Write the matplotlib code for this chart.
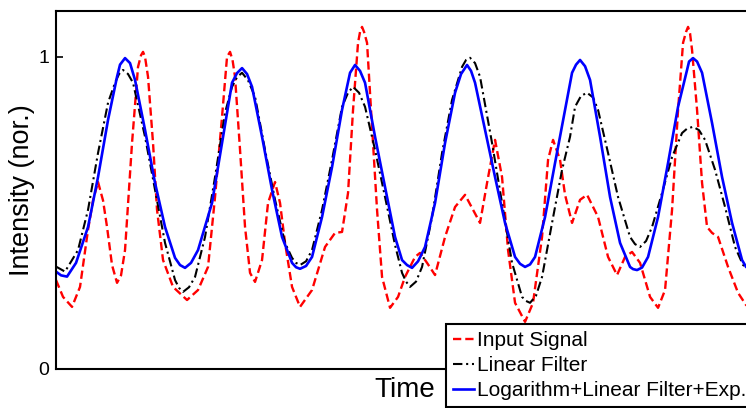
import numpy as np
import matplotlib
matplotlib.use("Agg")
from matplotlib import pyplot as plt

plt.rcParams['font.family'] = ['Liberation Sans', 'DejaVu Sans']

# time in arbitrary sample units, intensity normalised
t_input = [0, 7, 16, 24, 32, 37, 42, 47, 51, 56, 61, 65, 69, 76, 82, 85, 87, 89, 92, 97,
           101, 107, 117, 131, 142, 152, 159, 166, 171, 174, 176.5, 179, 184, 189, 194, 199,
           206, 212, 219, 224, 229, 236, 244, 256, 269, 279, 286, 292, 297, 302, 304, 306,
           308, 311, 316, 321, 326, 334, 342, 349, 359, 364, 371, 379, 389, 399, 409, 417,
           424, 431, 439, 446, 452, 459, 469, 477, 486, 492, 497, 504, 509, 516, 524, 531,
           542, 552, 561, 569, 576, 584, 594, 602, 609, 616, 622, 627, 630, 632, 634, 636,
           641, 646, 651, 656, 662, 672, 682, 690, 698]
i_input = [0.285, 0.231, 0.199, 0.263, 0.446, 0.540, 0.599, 0.540, 0.455, 0.333, 0.276,
           0.300, 0.381, 0.724, 0.968, 1.005, 1.016, 1.000, 0.936, 0.724, 0.510, 0.349,
           0.263, 0.221, 0.253, 0.327, 0.551, 0.808, 1.000, 1.016, 0.990, 0.936, 0.702,
           0.455, 0.308, 0.279, 0.349, 0.532, 0.599, 0.532, 0.404, 0.263, 0.199, 0.253,
           0.391, 0.436, 0.439, 0.564, 0.830, 1.045, 1.080, 1.096, 1.080, 1.045, 0.776,
           0.510, 0.295, 0.196, 0.231, 0.295, 0.359, 0.372, 0.340, 0.301, 0.423, 0.519,
           0.558, 0.510, 0.468, 0.596, 0.734, 0.615, 0.381, 0.212, 0.151, 0.212, 0.423,
           0.670, 0.734, 0.670, 0.558, 0.468, 0.542, 0.558, 0.487, 0.359, 0.301, 0.359,
           0.375, 0.340, 0.231, 0.196, 0.253, 0.510, 0.830, 1.045, 1.080, 1.096, 1.075,
           1.022, 0.830, 0.596, 0.455, 0.436, 0.423, 0.327, 0.244, 0.205, 0.190]

t_linear = [0, 9, 22, 32, 42, 52, 59, 63, 67, 72, 77, 89, 99, 109, 119, 123, 127, 133, 139,
            149, 159, 169, 176, 181, 186, 192, 199, 209, 219, 229, 236, 240, 244, 250, 256,
            266, 276, 286, 292, 297, 303, 309, 319, 329, 339, 346, 350, 354, 360, 366, 376,
            386, 396, 406, 410, 414, 419, 424, 436, 446, 456, 466, 470, 474, 480, 486, 496,
            506, 514, 519, 525, 531, 537, 542, 552, 562, 574, 579, 584, 590, 596, 606, 616,
            626, 631, 637, 643, 649, 659, 669, 679, 687, 698]
i_linear = [0.328, 0.312, 0.381, 0.510, 0.692, 0.853, 0.917, 0.945, 0.958, 0.945, 0.917,
            0.744, 0.574, 0.404, 0.285, 0.260, 0.247, 0.262, 0.295, 0.423, 0.615, 0.821,
            0.904, 0.935, 0.949, 0.925, 0.872, 0.702, 0.542, 0.404, 0.356, 0.340, 0.333,
            0.345, 0.381, 0.510, 0.670, 0.840, 0.885, 0.904, 0.885, 0.840, 0.702, 0.551,
            0.397, 0.308, 0.280, 0.263, 0.280, 0.327, 0.487, 0.692, 0.862, 0.968, 0.990,
            0.997, 0.980, 0.936, 0.724, 0.532, 0.340, 0.231, 0.218, 0.212, 0.235, 0.295,
            0.468, 0.638, 0.744, 0.840, 0.875, 0.885, 0.870, 0.830, 0.692, 0.551, 0.423,
            0.400, 0.391, 0.410, 0.455, 0.564, 0.679, 0.756, 0.770, 0.776, 0.765, 0.734,
            0.638, 0.519, 0.391, 0.333, 0.310]

t_log = [0, 5, 11, 20, 32, 42, 52, 61, 64, 69, 74, 79, 89, 99, 109, 119, 124, 129, 135,
         142, 156, 166, 176, 181, 186, 191, 196, 206, 216, 226, 236, 240, 244, 250, 256,
         266, 276, 286, 294, 299, 304, 309, 319, 329, 339, 346, 351, 356, 362, 369, 379,
         389, 399, 405, 411, 415, 419, 429, 439, 449, 459, 464, 469, 474, 479, 489, 499,
         509, 516, 520, 524, 529, 534, 544, 554, 564, 574, 577, 581, 586, 592, 602, 612,
         622, 631, 633, 637, 641, 646, 656, 666, 676, 686, 690, 698]
i_log = [0.312, 0.300, 0.296, 0.340, 0.455, 0.615, 0.798, 0.936, 0.975, 0.996, 0.980,
         0.926, 0.766, 0.596, 0.455, 0.356, 0.333, 0.324, 0.340, 0.381, 0.532, 0.724,
         0.917, 0.948, 0.964, 0.945, 0.904, 0.744, 0.574, 0.423, 0.340, 0.326, 0.321,
         0.330, 0.359, 0.487, 0.647, 0.830, 0.949, 0.974, 0.955, 0.917, 0.744, 0.583,
         0.423, 0.349, 0.333, 0.324, 0.345, 0.391, 0.532, 0.724, 0.885, 0.945, 0.974,
         0.955, 0.917, 0.766, 0.615, 0.468, 0.359, 0.337, 0.327, 0.335, 0.359, 0.487,
         0.660, 0.830, 0.949, 0.975, 0.990, 0.970, 0.926, 0.744, 0.551, 0.404, 0.327,
         0.320, 0.317, 0.325, 0.359, 0.487, 0.660, 0.840, 0.958, 0.985, 0.996, 0.985,
         0.949, 0.788, 0.615, 0.468, 0.349, 0.327, 0.310]

fig = plt.figure(figsize=(7.46, 4.08), dpi=100)
ax = fig.add_axes([0.0751, 0.0956, 0.9357, 0.8775])

l1, = ax.plot(t_input, i_input, color='#ff0000', lw=1.7, ls=(0, (3.5, 1.7)),
              label='Input Signal')
l2, = ax.plot(t_linear, i_linear, color='black', lw=1.5, ls=(0, (4.5, 1.8, 1, 1.8)),
              label='Linear Filter')
l3, = ax.plot(t_log, i_log, color='#0000ff', lw=1.9, label='Logarithm+Linear Filter+Exp.')

ax.set_xlim(0, 698)
ax.set_ylim(0, 1.147)
ax.set_xticks([])
ax.set_yticks([0, 1])
ax.set_yticklabels(['0', '1'])
ax.tick_params(axis='y', direction='in', length=5, width=1.2, labelsize=14, pad=5)
for s in ax.spines.values():
    s.set_linewidth(1.5)

ax.set_ylabel('Intensity (nor.)', fontsize=19.5, labelpad=2)
ax.set_xlabel('Time', fontsize=20, labelpad=6)

leg = ax.legend(handles=[l1, l2, l3], loc='upper left',
                bbox_to_anchor=(446 / 746, 1 - 324 / 408), bbox_transform=fig.transFigure,
                fontsize=15, frameon=True, fancybox=False, framealpha=1,
                edgecolor='black', borderpad=0.35, labelspacing=0.28,
                handlelength=1.0, handletextpad=0.15, borderaxespad=0)
leg.get_frame().set_linewidth(1.5)
leg.set_zorder(10)

fig.savefig('out.png', dpi=100)
